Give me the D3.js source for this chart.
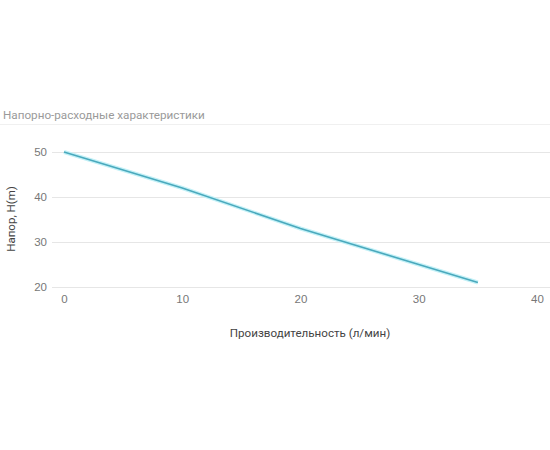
<!DOCTYPE html>
<html>
<head>
<meta charset="utf-8">
<script src="https://cdn.jsdelivr.net/npm/d3@7"></script>
<style>
  body { margin: 0; background: #fff; }
  svg { display: block; font-family: Roboto, "Open Sans", sans-serif; }
</style>
</head>
<body>
<div id="chart"></div>
<script>
// flow (л/мин) vs head (m)
const flow = [0, 10, 20, 30, 35];
const head = [50, 42, 33, 25, 21];
const xTicks = [0, 10, 20, 30, 40];
const yTicks = [20, 30, 40, 50];

const width = 550, height = 450;

const svg = d3.select("#chart").append("svg")
	.attr("width", width)
	.attr("height", height);

const x = d3.scaleLinear().domain([0, 40]).range([64, 537]);
const y = d3.scaleLinear().domain([20, 50]).range([287, 152]);

/* title + separator line */
svg.append("text")
	.attr("x", 3).attr("y", 119)
	.attr("fill", "#9a9a9a")
	.attr("font-size", "11.7px")
	.text("Напорно-расходные характеристики");

svg.append("line")
	.attr("x1", 0).attr("x2", width)
	.attr("y1", 124.5).attr("y2", 124.5)
	.attr("stroke", "#f0f0f0");

/* y grid + labels */
const yAxis = svg.append("g")
	.attr("transform", "translate(52,0)")
	.call(d3.axisRight(y).tickValues(yTicks).tickSize(width - 52).tickFormat(d3.format("d")));
yAxis.select(".domain").remove();
yAxis.selectAll(".tick line").attr("stroke", "#e6e6e6");
yAxis.selectAll(".tick text")
	.attr("x", -5)
	.attr("text-anchor", "end")
	.attr("fill", "#777")
	.attr("font-size", "11.5px");

/* x labels */
const xAxis = svg.append("g")
	.attr("transform", "translate(0,288)")
	.call(d3.axisBottom(x).tickValues(xTicks).tickSize(0).tickFormat(d3.format("d")));
xAxis.select(".domain").remove();
xAxis.selectAll(".tick text")
	.attr("dy", "1.05em")
	.attr("fill", "#777")
	.attr("font-size", "11.5px");

/* axis titles */
svg.append("text")
	.attr("transform", "translate(15,219) rotate(-90)")
	.attr("text-anchor", "middle")
	.attr("fill", "#444")
	.attr("font-size", "11.5px")
	.text("Напор, H(m)");

svg.append("text")
	.attr("x", 310).attr("y", 337)
	.attr("text-anchor", "middle")
	.attr("fill", "#444")
	.attr("font-size", "11.6px")
	.text("Производительность (л/мин)");

/* curve */
const pts = flow.map((f, i) => [f, head[i]]);
const line = d3.line().x(d => x(d[0])).y(d => y(d[1]));

svg.append("path")
	.datum(pts)
	.attr("fill", "none")
	.attr("stroke", "#c4f1f7")
	.attr("stroke-width", 4)
	.attr("d", line);

svg.append("path")
	.datum(pts)
	.attr("fill", "none")
	.attr("stroke", "#4aa9bd")
	.attr("stroke-width", 1.6)
	.attr("d", line);
</script>
</body>
</html>
